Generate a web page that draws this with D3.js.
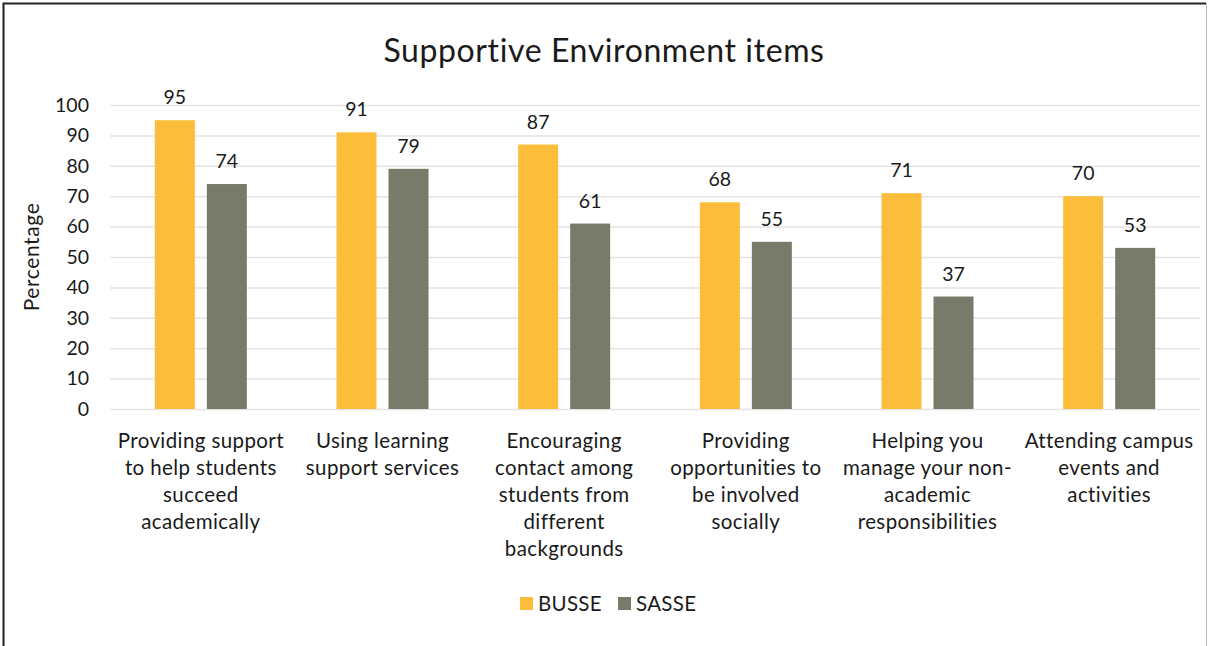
<!DOCTYPE html>
<html>
<head>
<meta charset="utf-8">
<script src="https://cdn.jsdelivr.net/npm/d3@7"></script>
<style>
  html, body { margin: 0; padding: 0; background: #fff; }
  svg { display: block; }
  text { font-family: "Lato", "Open Sans", sans-serif; fill: #1a1a1a; }
</style>
</head>
<body>
<svg id="chart" width="1212" height="646"></svg>
<script>
// Supportive Environment items: share of students (%) by survey
const categories = [
  ["Providing support", "to help students", "succeed", "academically"],
  ["Using learning", "support services"],
  ["Encouraging", "contact among", "students from", "different", "backgrounds"],
  ["Providing", "opportunities to", "be involved", "socially"],
  ["Helping you", "manage your non-", "academic", "responsibilities"],
  ["Attending campus", "events and", "activities"]
];
const seriesNames = ["BUSSE", "SASSE"];
const busse = [95, 91, 87, 68, 71, 70];
const sasse = [74, 79, 61, 55, 37, 53];
const yTicks = [0, 10, 20, 30, 40, 50, 60, 70, 80, 90, 100];
const colors = ["#FBBD3A", "#787B69"];

const svg = d3.select("#chart");
const W = 1212, H = 646;

// frame
svg.append("rect").attr("x", 0).attr("y", 0).attr("width", W).attr("height", H).attr("fill", "#fff");
svg.append("path").attr("d", `M3.5,${H} V3.5 H1206`).attr("fill", "none").attr("stroke", "#222").attr("stroke-width", 2);
svg.append("line").attr("x1", 1206.5).attr("x2", 1206.5).attr("y1", 3).attr("y2", H).attr("stroke", "#bbb").attr("stroke-width", 1);

const plot = { left: 110, right: 1200, top: 105, bottom: 409 };

const x0 = d3.scaleBand().domain(d3.range(categories.length)).range([plot.left, plot.right]).paddingInner(0).paddingOuter(0);
const x1 = d3.scaleBand().domain(d3.range(seriesNames.length)).range([0, 92]).paddingInner(12 / 52).paddingOuter(0);
const y = d3.scaleLinear().domain([0, 100]).range([plot.bottom, plot.top]);

// gridlines
svg.append("g").selectAll("line").data(yTicks).join("line")
  .attr("x1", plot.left).attr("x2", plot.right)
  .attr("y1", d => y(d) + 0.5).attr("y2", d => y(d) + 0.5)
  .attr("stroke", "#e3e3e3").attr("stroke-width", 1.5);

// y axis labels
const yAxis = d3.axisLeft(y).tickValues(yTicks).tickSize(0).tickPadding(0);
const gy = svg.append("g").attr("transform", `translate(89,0)`).call(yAxis);
gy.select(".domain").remove();
gy.selectAll("text").attr("font-size", 19.5).attr("font-family", "Lato, sans-serif").attr("fill", "#1a1a1a");

// y axis title
svg.append("text").attr("transform", `translate(39,257) rotate(-90)`)
  .attr("text-anchor", "middle").attr("font-size", 21).attr("letter-spacing", 0.6).text("Percentage");

// title
svg.append("text").attr("x", 604).attr("y", 62).attr("text-anchor", "middle")
  .attr("font-size", 32).attr("letter-spacing", 0.6).text("Supportive Environment items");

// bars
const data = categories.map((c, i) => ({ i, values: [busse[i], sasse[i]] }));
const groups = svg.append("g").selectAll("g").data(data).join("g")
  .attr("transform", d => `translate(${x0(d.i) + x0.bandwidth() / 2 - 46},0)`);

groups.selectAll("rect").data(d => d.values.map((v, s) => ({ v, s }))).join("rect")
  .attr("x", d => x1(d.s))
  .attr("width", x1.bandwidth())
  .attr("y", d => y(d.v))
  .attr("height", d => y(0) - y(d.v))
  .attr("fill", d => colors[d.s]);

groups.selectAll("text.val").data(d => d.values.map((v, s) => ({ v, s }))).join("text")
  .attr("class", "val")
  .attr("x", d => x1(d.s) + x1.bandwidth() / 2)
  .attr("y", d => y(d.v) - 16)
  .attr("text-anchor", "middle").attr("font-size", 19.5)
  .text(d => d.v);

// category labels
const xl = svg.append("g").selectAll("text").data(categories).join("text")
  .attr("x", (d, i) => x0(i) + x0.bandwidth() / 2)
  .attr("y", 448)
  .attr("text-anchor", "middle").attr("font-size", 20.5).attr("letter-spacing", 0.4);
xl.selectAll("tspan").data(d => d).join("tspan")
  .attr("x", function () { return this.parentNode.getAttribute("x"); })
  .attr("dy", (d, j) => j === 0 ? 0 : 27)
  .text(d => d);

// legend
const legend = svg.append("g");
const legendX = [520, 618];
seriesNames.forEach((name, s) => {
  legend.append("rect").attr("x", legendX[s]).attr("y", 597).attr("width", 13).attr("height", 13).attr("fill", colors[s]);
  legend.append("text").attr("x", legendX[s] + 18).attr("y", 611).attr("font-size", 20.5).attr("letter-spacing", 0.3).text(name);
});
</script>
</body>
</html>
